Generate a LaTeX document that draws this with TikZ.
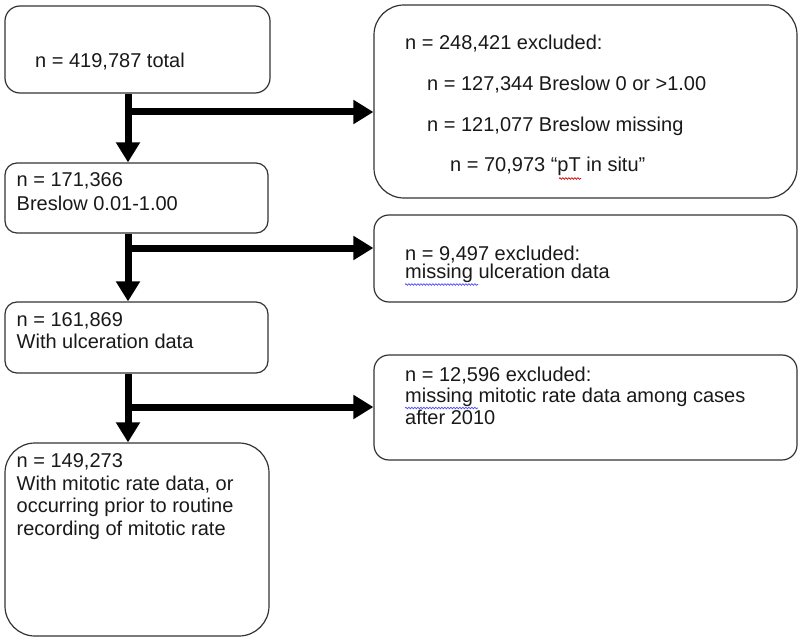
\documentclass[tikz,border=0pt]{standalone}
\usepackage{fontspec}
\setmainfont{Liberation Sans}
\usetikzlibrary{arrows.meta,decorations.pathmorphing}
\begin{document}
\begin{tikzpicture}[x=1pt,y=-1pt,
  box/.style={draw=black!80,line width=1.2pt,fill=white,inner sep=0pt},
  txt/.style={anchor=base west,inner sep=0pt,text=black!90,font=\fontsize{20}{22}\selectfont},
  flow/.style={line width=7pt,-{Triangle[length=20pt,width=23pt]}},
  spell/.style={decorate,decoration={snake,amplitude=0.8pt,segment length=3pt},line width=0.7pt}
]
\useasboundingbox (0,0) rectangle (800,639);
% boxes
\node[box,rounded corners=15pt,minimum width=265pt,minimum height=87pt] (b1) at (137.5,49.5) {};
\node[box,rounded corners=30pt,minimum width=423pt,minimum height=193pt] (r1) at (585.5,101.5) {};
\node[box,rounded corners=12pt,minimum width=263pt,minimum height=70pt] (b2) at (136.5,198) {};
\node[box,rounded corners=15pt,minimum width=423pt,minimum height=87pt] (r2) at (585.5,258.5) {};
\node[box,rounded corners=12pt,minimum width=263pt,minimum height=71pt] (b3) at (136.5,337.5) {};
\node[box,rounded corners=15pt,minimum width=423pt,minimum height=105pt] (r3) at (585.5,407.5) {};
\node[box,rounded corners=30pt,minimum width=264pt,minimum height=193pt] (b4) at (137,539.5) {};
% texts
\node[txt] (t1) at (35,67.5) {n = 419,787 total};
\node[txt] (t2) at (405,50) {n = 248,421 excluded:};
\node[txt] (t3) at (427,91) {n = 127,344 Breslow 0 or >1.00};
\node[txt] (t4) at (427,131.5) {n = 121,077 Breslow missing};
\node[txt] (t5) at (450,171.5) {n = 70,973 “pT in situ”};
\node[txt] (t6) at (16.5,186.5) {n = 171,366};
\node[txt] (t7) at (16.5,210.5) {Breslow 0.01-1.00};
\node[txt] (t8) at (405,260) {n = 9,497 excluded:};
\node[txt] (t9) at (405,278.5) {missing ulceration data};
\node[txt] (t10) at (16.5,326.5) {n = 161,869};
\node[txt] (t11) at (16.5,348.5) {With ulceration data};
\node[txt] (t12) at (405,381.5) {n = 12,596 excluded:};
\node[txt] (t13) at (405,402) {missing mitotic rate data among cases};
\node[txt] (t14) at (405,424) {after 2010};
\node[txt] (t15) at (16.5,467.5) {n = 149,273};
\node[txt] (t16) at (16.5,490) {With mitotic rate data, or};
\node[txt] (t17) at (16.5,512.5) {occurring prior to routine};
\node[txt] (t18) at (16.5,535) {recording of mitotic rate};
% spell-check underlines
\coordinate (s1a) at (559,178.5); \coordinate (s1b) at (581,178.5);
\coordinate (s2a) at (405,284.5); \coordinate (s2b) at (478,284.5);
\coordinate (s3a) at (405,408); \coordinate (s3b) at (478,408);
\draw[spell,red!85!black] (s1a) -- (s1b);
\draw[spell,blue!70] (s2a) -- (s2b);
\draw[spell,blue!70] (s3a) -- (s3b);
% connectors
\coordinate (j1) at (128,112);
\coordinate (j2) at (128,248);
\coordinate (j3) at (128,407);
\draw[flow] (b1.south -| j1) -- (b2.north -| j1);
\draw[flow] (j1) -- (j1 -| r1.west);
\draw[flow] (b2.south -| j2) -- (b3.north -| j2);
\draw[flow] (j2) -- (j2 -| r2.west);
\draw[flow] (b3.south -| j3) -- (b4.north -| j3);
\draw[flow] (j3) -- (j3 -| r3.west);
\end{tikzpicture}
\end{document}
